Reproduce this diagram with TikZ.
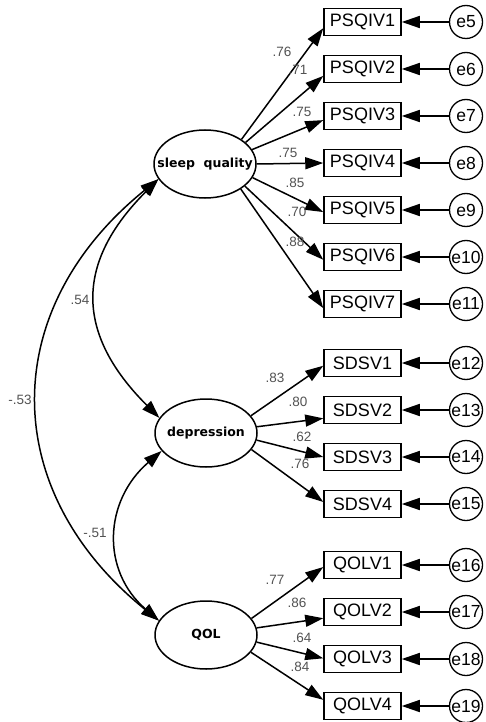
\documentclass[tikz,border=0pt]{standalone}
\usepackage{fontspec}
\setmainfont{Liberation Sans}
\newfontfamily\latfont{DejaVu Sans}
\usetikzlibrary{arrows.meta,shapes.geometric}
\begin{document}
\begin{tikzpicture}[x=1pt,y=-1pt,
  lat/.style={ellipse,draw,line width=1.5pt,minimum width=102pt,minimum height=68pt,inner sep=0pt,font=\latfont\bfseries\fontsize{12.5}{14}\selectfont},
  obs/.style={rectangle,draw,line width=1.5pt,minimum width=77pt,minimum height=27pt,inner sep=0pt,font=\fontsize{18}{20}\selectfont},
  err/.style={circle,draw,line width=1.3pt,minimum size=33pt,inner sep=0pt,font=\fontsize{17.5}{20}\selectfont},
  coef/.style={inner sep=0pt,text=black!68,font=\fontsize{13.5}{15}\selectfont},
  arr/.style={line width=1.5pt,-{Triangle[length=18pt,width=12pt]}},
  cov/.style={line width=1.5pt,{Triangle[length=18pt,width=12pt]}-{Triangle[length=18pt,width=12pt]}}
]
\useasboundingbox (0,0) rectangle (485,722);

% latent variables
\node[lat] (sq) at (205,164) {\makebox[0pt]{sleep\ \ quality}};
\node[lat] (dep) at (206,433) {\makebox[0pt]{depression}};
\node[lat] (qol) at (206,635) {\makebox[0pt]{QOL}};

% observed variables and errors
\foreach \i/\y/\e in {1/22/5,2/69/6,3/116/7,4/163/8,5/210/9,6/257/10,7/304/11}{
  \node[obs] (p\i) at (362.5,\y) {PSQIV\i};
  \node[err] (ep\i) at (466,\y) {e\e};
  \draw[arr] (ep\i.west) -- (p\i.east);
}
\foreach \i/\y/\e in {1/363/12,2/410/13,3/457/14,4/504/15}{
  \node[obs] (s\i) at (362.5,\y) {SDSV\i};
  \node[err] (es\i) at (466,\y) {e\e};
  \draw[arr] (es\i.west) -- (s\i.east);
}
\foreach \i/\y/\e in {1/565/16,2/612/17,3/659/18,4/706/19}{
  \node[obs] (q\i) at (362.5,\y) {QOLV\i};
  \node[err] (eq\i) at (466,\y) {e\e};
  \draw[arr] (eq\i.west) -- (q\i.east);
}

% loadings
\draw[arr] (sq.34) -- (p1.189);
\draw[arr] (sq.28) -- (p2.190);
\draw[arr] (sq.17) -- (p3.186);
\draw[arr] (sq.0) -- (p4.180);
\draw[arr] (sq.344) -- (p5.183);
\draw[arr] (sq.331) -- (p6.184);
\draw[arr] (sq.325) -- (p7.186);

\draw[arr] (dep.21) -- (s1.184);
\draw[arr] (dep.7) -- (s2.192);
\draw[arr] (dep.352) -- (s3.180);
\draw[arr] (dep.340) -- (s4.177);

\draw[arr] (qol.20) -- (q1.183);
\draw[arr] (qol.8) -- (q2.189);
\draw[arr] (qol.352) -- (q3.179);
\draw[arr] (qol.339) -- (q4.171);

% loading labels
\node[coef] (lp1) at (282,52) {.76};
\node[coef] (lp2) at (298,70) {.71};
\node[coef] (lp3) at (302,112) {.75};
\node[coef] (lp4) at (288,153) {.75};
\node[coef] (lp5) at (295,183) {.85};
\node[coef] (lp6) at (297,212) {.70};
\node[coef] (lp7) at (295,242) {.88};

\node[coef] (ls1) at (275,378) {.83};
\node[coef] (ls2) at (298,402) {.80};
\node[coef] (ls3) at (302,437) {.62};
\node[coef] (ls4) at (300,464) {.76};

\node[coef] (lq1) at (275,580) {.77};
\node[coef] (lq2) at (297,603) {.86};
\node[coef] (lq3) at (302,638) {.64};
\node[coef] (lq4) at (300,667) {.84};

% covariances
\draw[cov] (sq.198) .. controls +(-84,84) and +(-84,-84) .. (dep.162);
\draw[cov] (sq.198) .. controls +(-161,130) and +(-161,-130) .. (qol.163);
\draw[cov] (dep.202) .. controls +(-58,50) and +(-58,-50) .. (qol.163);

\node[coef] (c1) at (80,300) {.54};
\node[coef] (c2) at (20,400) {-.53};
\node[coef] (c3) at (95,533) {-.51};
\end{tikzpicture}
\end{document}
